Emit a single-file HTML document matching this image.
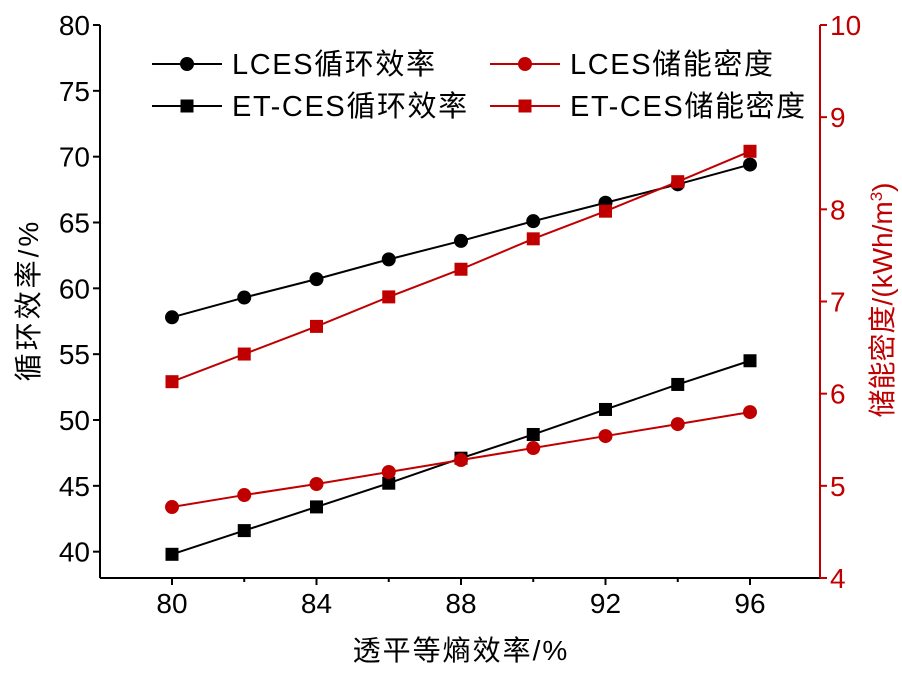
<!DOCTYPE html>
<html><head><meta charset="utf-8"><style>
body{margin:0;background:#fff}
svg text{font-family:"Liberation Sans","Noto Sans CJK SC",sans-serif}
</style></head><body>
<svg id="c" width="902" height="674" viewBox="0 0 902 674"></svg>
<script>
const xs=[80,82,84,86,88,90,92,94,96];
const lcesEff=[57.8,59.3,60.7,62.2,63.6,65.1,66.5,67.9,69.4];
const etcesEff=[39.8,41.6,43.4,45.2,47.1,48.9,50.8,52.7,54.5];
const lcesDen=[4.77,4.90,5.02,5.15,5.28,5.41,5.54,5.67,5.80];
const etcesDen=[6.13,6.43,6.73,7.05,7.35,7.68,7.98,8.30,8.63];
const xTicks=[80,84,88,92,96];
const yTicks=[40,45,50,55,60,65,70,75,80];
const y2Ticks=[4,5,6,7,8,9,10];
const NS="http://www.w3.org/2000/svg";
const svg=document.getElementById('c');
const L=100,R=820,T=25,B=578;
const X=v=>172+(v-80)*(578/16);
const Y=v=>B-(v-38)*(553/42);
const Y2=v=>B-(v-4)*(553/6);
const RED="#c00000";
function el(t,a,p){const e=document.createElementNS(NS,t);for(const k in a)e.setAttribute(k,a[k]);(p||svg).appendChild(e);return e;}
function txt(s,a){const e=el('text',a);e.textContent=s;return e;}
let e;
e=el('line',{x1:L,y1:B,x2:R,y2:B,stroke:'#000','stroke-width':2});

e=el('line',{x1:L,y1:T,x2:L,y2:B,stroke:'#000','stroke-width':2});

e=el('line',{x1:R,y1:T,x2:R,y2:B,stroke:RED,'stroke-width':2});

xTicks.forEach(v=>{
 el('line',{x1:X(v),y1:B,x2:X(v),y2:B+7,stroke:'#000','stroke-width':2});
 e=txt(v,{x:X(v),y:B+35,'text-anchor':'middle','font-size':28});
 
});
[82,86,90,94].forEach(v=>el('line',{x1:X(v),y1:B,x2:X(v),y2:B+4,stroke:'#000','stroke-width':2}));
yTicks.forEach(v=>{
 el('line',{x1:L-7,y1:Y(v),x2:L,y2:Y(v),stroke:'#000','stroke-width':2});
 e=txt(v,{x:L-10,y:Y(v)+10,'text-anchor':'end','font-size':28});
 
});
y2Ticks.forEach(v=>{
 el('line',{x1:R,y1:Y2(v),x2:R+7,y2:Y2(v),stroke:RED,'stroke-width':2});
 e=txt(v,{x:R+10,y:Y2(v)+10,'font-size':28,fill:RED});
 
});
function series(vals,yf,color,shape,name){
 const g=el('g',{});
 
 el('polyline',{points:xs.map((x,i)=>X(x)+','+yf(vals[i])).join(' '),fill:'none',stroke:color,'stroke-width':2},g);
 xs.forEach((x,i)=>{
  const cx=X(x),cy=yf(vals[i]);
  let m=shape==='c'?el('circle',{cx:cx,cy:cy,r:7,fill:color},g):el('rect',{x:cx-6.5,y:cy-6.5,width:13,height:13,fill:color},g);
  
 });
}
series(lcesEff,Y,'#000','c','series-lces-efficiency');
series(etcesEff,Y,'#000','s','series-etces-efficiency');
series(lcesDen,Y2,RED,'c','series-lces-density');
series(etcesDen,Y2,RED,'s','series-etces-density');
function leg(x,y,color,shape,label,name){
 const g=el('g',{});
 
 el('line',{x1:x,y1:y,x2:x+70,y2:y,stroke:color,'stroke-width':2},g);
 if(shape==='c')el('circle',{cx:x+35,cy:y,r:7,fill:color},g);else el('rect',{x:x+28.5,y:y-6.5,width:13,height:13,fill:color},g);
 const t=el('text',{x:x+80,y:y+10,'font-size':29,'letter-spacing':1.6},g);t.textContent=label;
}
leg(152,64,'#000','c','LCES循环效率','legend-lces-efficiency');
leg(152,106,'#000','s','ET-CES循环效率','legend-etces-efficiency');
leg(490,64,RED,'c','LCES储能密度','legend-lces-density');
leg(490,106,RED,'s','ET-CES储能密度','legend-etces-density');
e=txt('透平等熵效率/%',{x:461,y:660,'text-anchor':'middle','font-size':28,'letter-spacing':2});

e=txt('循环效率/%',{x:0,y:0,'text-anchor':'middle','font-size':28,'letter-spacing':3,transform:'translate(38,300) rotate(-90)'});

e=el('text',{x:0,y:0,'text-anchor':'middle','font-size':28,fill:RED,transform:'translate(892,300) rotate(-90)'});
e.innerHTML='储能密度/(kWh/m<tspan dy="-10" font-size="17">3</tspan><tspan dy="10">)</tspan>';

</script>
</body></html>
